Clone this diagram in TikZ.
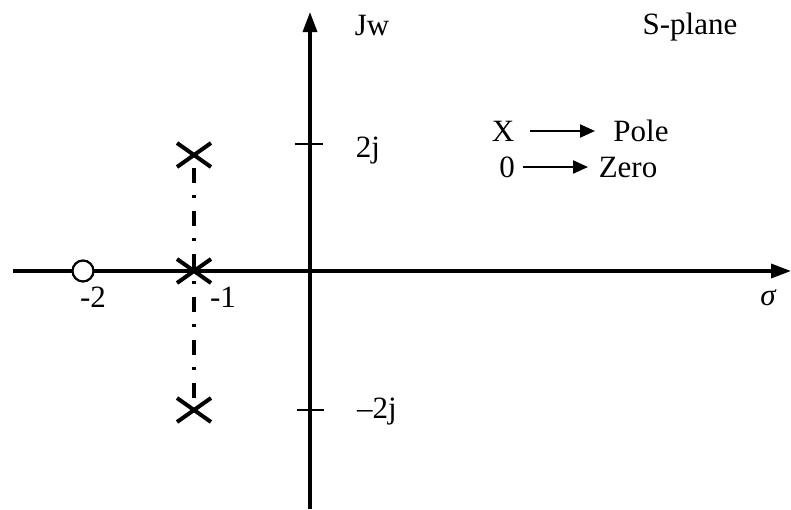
\documentclass[tikz,border=0pt]{standalone}
\usepackage{fontspec}
\setmainfont{Liberation Serif}
\usetikzlibrary{arrows.meta}
\begin{document}
\begin{tikzpicture}[x=1pt,y=-1pt,
  axis/.style={line width=3.4pt,-{Triangle[length=20pt,width=14pt]}},
  tickmark/.style={line width=2.8pt},
  polemark/.style={line width=4pt},
  zeromark/.style={draw,line width=2.2pt,circle,minimum size=21pt,inner sep=0pt,fill=white},
  lbl/.style={font=\fontsize{31}{36}\selectfont,inner sep=0pt},
  legarrow/.style={line width=2.2pt,-{Triangle[length=15pt,width=13pt]}},
  dashdot/.style={line width=3.4pt,dash pattern=on 15pt off 12pt on 3pt off 13pt}]
\useasboundingbox (0,0) rectangle (791,509);
\fill[white] (0,0) rectangle (791,509);
% axes
\coordinate (xl) at (13,271);
\coordinate (xr) at (791,271);
\coordinate (yb) at (310,509);
\coordinate (yt) at (310,12);
\draw[axis] (xl) -- (xr);
\draw[axis] (yb) -- (yt);
% ticks
\coordinate (t1a) at (295,144); \coordinate (t1b) at (323,144);
\coordinate (t2a) at (297,410); \coordinate (t2b) at (324,410);
\draw[tickmark] (t1a) -- (t1b);
\draw[tickmark] (t2a) -- (t2b);
% dash-dot line
\coordinate (dtop) at (194,168);
\coordinate (dbot) at (194,398);
\draw[dashdot,dash phase=0pt] (dtop) -- (dbot);
% poles
\foreach \n/\y in {p1/155,p2/271,p3/410}{
  \coordinate (\n) at (194,\y);
  \draw[polemark] ([shift={(-17,-12)}]\n) -- ([shift={(17,12)}]\n);
  \draw[polemark] ([shift={(-17,12)}]\n) -- ([shift={(17,-12)}]\n);
}
% zero
\node[zeromark] (z) at (83,271) {};
% labels
\node[lbl] (jw) at (372,25) {Jw};
\node[lbl] (sp) at (690,27) {S-plane};
\node[lbl] (l2j) at (368,151) {2j};
\node[lbl] (lm2j) at (377,412) {–2j};
\node[lbl] (lm2) at (93,297) {-2};
\node[lbl] (lm1) at (223,297) {-1};
\node[lbl] (sig) at (768,298) {\itshape σ};
% legend
\node[lbl] (lx) at (503,131) {X};
\node[lbl] (lpole) at (641,131) {Pole};
\node[lbl] (l0) at (507,167) {0};
\node[lbl] (lzero) at (628,167) {Zero};
\draw[legarrow] (530,131) -- (595,131);
\draw[legarrow] (523,167) -- (588,167);
\end{tikzpicture}
\end{document}
